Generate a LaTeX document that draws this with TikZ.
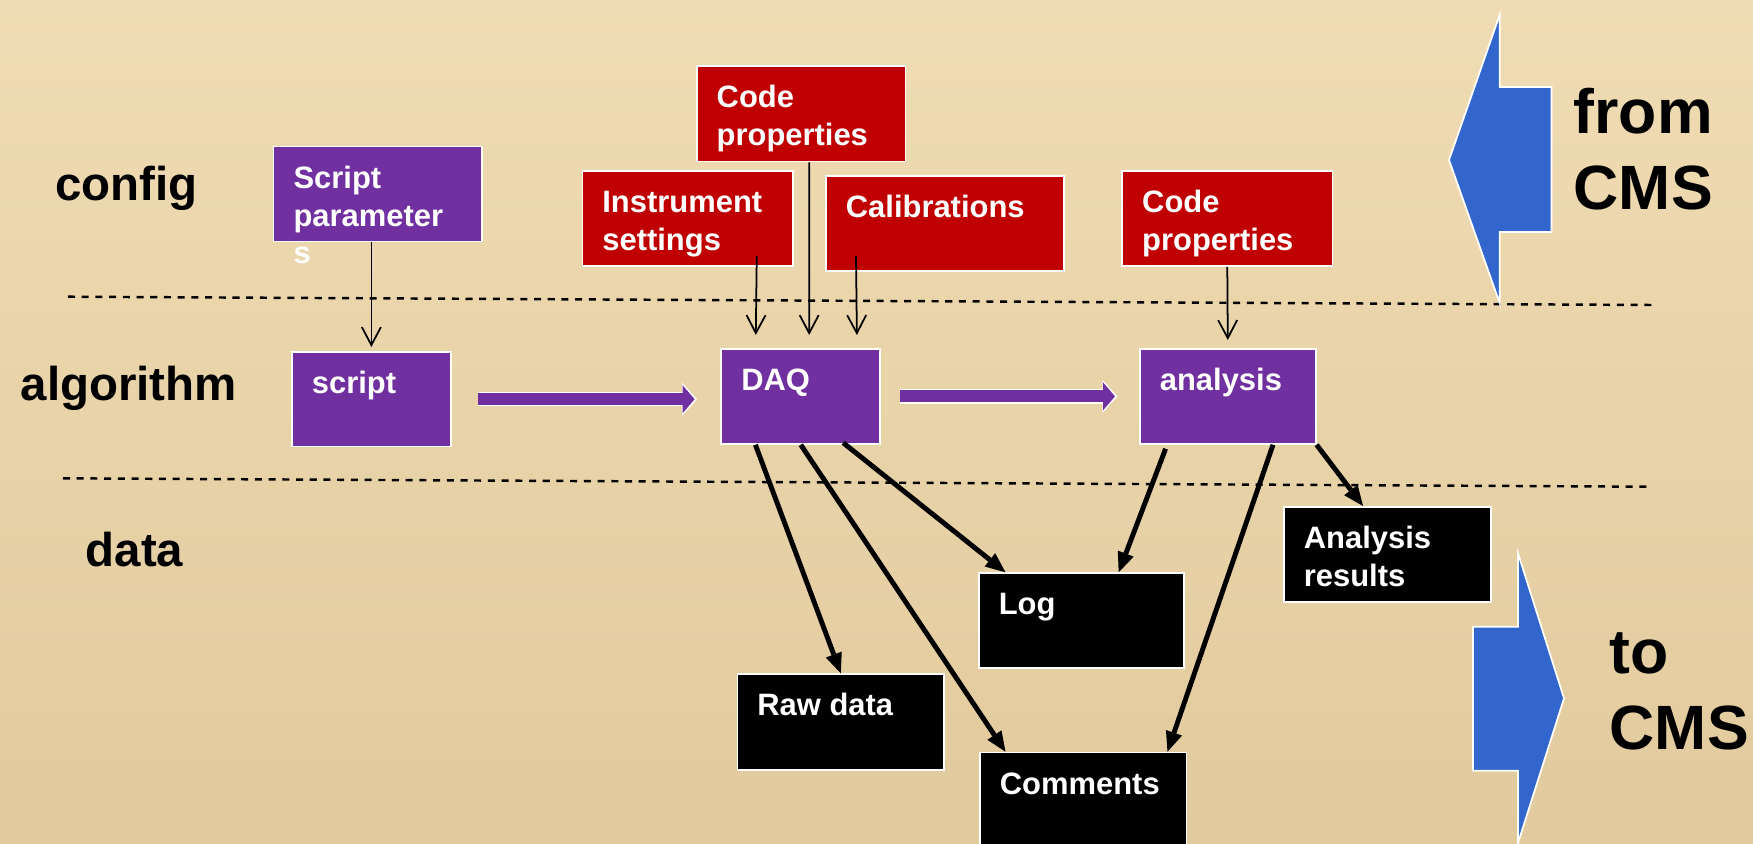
\documentclass[tikz,border=0pt]{standalone}
\usepackage{fontspec}
\setmainfont{Liberation Sans}
\usepackage{xcolor}
\usetikzlibrary{calc, arrows.meta, positioning}

\definecolor{boxpurple}{HTML}{7030A0}
\definecolor{boxred}{HTML}{C00000}
\definecolor{cmsblue}{HTML}{3366CC}
\definecolor{paperhi}{HTML}{F0DCB4}
\definecolor{paperlo}{HTML}{E1CA9D}

% text sits in the top left corner of every box
\newcommand{\blocktext}[3]{\parbox[t][#2][t]{#1}{\raggedright\leftskip=2mm\rule{0pt}{4.15mm}#3}}

\begin{document}
\begin{tikzpicture}[
    blk/.style={draw=white, line width=0.5pt, inner sep=0pt, anchor=north west,
      text=white, font=\fontsize{8.8pt}{10.8pt}\selectfont\bfseries},
    layer/.style={anchor=base west, inner sep=0pt, font=\fontsize{13.5pt}{16pt}\selectfont\bfseries},
    cmslbl/.style={anchor=base west, inner sep=0pt, font=\fontsize{17.8pt}{21.6pt}\selectfont\bfseries},
    divider/.style={line width=0.7pt, dash pattern=on 2pt off 1.9pt},
    thinarr/.style={line width=0.5pt, -{Straight Barb[length=1.8mm, width=1.9mm]}},
    dataarr/.style={line width=1.4pt, -{Triangle[length=2mm, width=1.7mm, line width=0pt]}},
    flowarr/.style={draw=boxpurple, line width=1.2mm,
      -{Triangle[length=1.2mm, width=2.8mm, line width=0pt]},
      preaction={draw=white, line width=1.45mm,
        -{Triangle[length=1.5mm, width=3.3mm, line width=0pt]}, shorten >=-0.25mm}},
    bigarr/.style={fill=cmsblue, draw=white, line width=0.5pt},
  ]
  \fill[top color=paperhi, bottom color=paperlo] (0,0) rectangle (17.53,-8.43);
  \useasboundingbox (0,0) rectangle (17.53,-8.43);

  % layer names and separators
  \foreach \x/\y/\t/\n in {0.545/-2.00/config/lcfg, 0.20/-4.00/algorithm/lalg, 0.85/-5.667/data/ldat}
    \node[layer] (\n) at (\x,\y) {\t};
  \draw[divider] (0.68,-2.967) -- (16.53,-3.05);
  \draw[divider] (0.63,-4.783) -- (16.48,-4.867);

  % config
  \node[blk, fill=boxpurple] (sp) at (2.727,-1.457) {\blocktext{2.084cm}{0.95cm}{Script\\parameter\\s}};
  \node[blk, fill=boxred] (cp1) at (6.958,-0.65) {\blocktext{2.089cm}{0.957cm}{Code\\properties}};
  \node[blk, fill=boxred] (inst) at (5.815,-1.70) {\blocktext{2.105cm}{0.95cm}{Instrument\\settings}};
  \node[blk, fill=boxred] (cal) at (8.25,-1.75) {\blocktext{2.38cm}{0.95cm}{Calibrations}};
  \node[blk, fill=boxred] (cp2) at (11.213,-1.70) {\blocktext{2.102cm}{0.95cm}{Code\\properties}};

  % algorithm
  \node[blk, fill=boxpurple] (script) at (2.91,-3.51) {\blocktext{1.59cm}{0.947cm}{script}};
  \node[blk, fill=boxpurple] (daq) at (7.204,-3.48) {\blocktext{1.59cm}{0.95cm}{DAQ}};
  \node[blk, fill=boxpurple] (ana) at (11.39,-3.48) {\blocktext{1.758cm}{0.95cm}{analysis}};

  % data
  \node[blk, fill=black] (res) at (12.83,-5.06) {\blocktext{2.074cm}{0.95cm}{Analysis\\results}};
  \node[blk, fill=black] (log) at (9.779,-5.723) {\blocktext{2.05cm}{0.95cm}{Log}};
  \node[blk, fill=black] (raw) at (7.365,-6.733) {\blocktext{2.068cm}{0.96cm}{Raw data}};
  \node[blk, fill=black] (com) at (9.79,-7.517) {\blocktext{2.067cm}{0.96cm}{Comments}};

  % config -> algorithm
  \draw[thinarr] (script.north |- sp.south) -- ([yshift=0.4mm]script.north);
  \draw[thinarr] ([shift={(-0.37,0.11)}]inst.south east) -- ([shift={(-0.45,0.13)}]daq.north);
  \draw[thinarr] ([xshift=0.8mm]cp1.south) -- ([shift={(0.084,0.13)}]daq.north);
  \draw[thinarr] ([shift={(0.31,0.16)}]cal.south west) -- ([shift={(0.561,0.13)}]daq.north);
  \draw[thinarr] (cp2.south) -- ([yshift=0.8mm]ana.north);

  % flow along the algorithm row
  \draw[flowarr] ($(script.east)+(0.265,0)$) -- ($(script.east -| daq.west)+(-0.258,0)$);
  \draw[flowarr] ($(daq.east)+(0.184,0)$) -- ($(daq.east -| ana.west)+(-0.24,0)$);

  % algorithm -> data
  \draw[dataarr] ([xshift=3.5mm]daq.south west) -- (raw.north);
  \draw[dataarr] (daq.south) -- ([xshift=2.65mm]com.north west);
  \draw[dataarr] ([shift={(-0.38,0.02)}]daq.south east) -- ([xshift=2.76mm]log.north west);
  \draw[dataarr] ([shift={(0.266,-0.04)}]ana.south west) -- ([xshift=-6.6mm]log.north east);
  \draw[dataarr] ([xshift=13.4mm]ana.south west) -- ([xshift=-2mm]com.north east);
  \draw[dataarr] (ana.south east) -- ([xshift=8mm]res.north west);

  % CMS in and out
  \path[bigarr] (14.996,-0.15) -- (14.49,-1.60) -- (14.996,-3.03) -- (14.996,-2.32)
    -- (15.515,-2.32) -- (15.515,-0.87) -- (14.996,-0.87) -- cycle;
  \node[cmslbl] (fromcms) at (15.73,-1.333) {\parbox[t]{1.8cm}{from\\CMS}};
  \path[bigarr] (15.18,-5.533) -- (15.64,-6.983) -- (15.18,-8.43) -- (15.18,-7.707)
    -- (14.73,-7.707) -- (14.73,-6.267) -- (15.18,-6.267) -- cycle;
  \node[cmslbl] (tocms) at (16.09,-6.733) {\parbox[t]{1.6cm}{to\\CMS}};
\end{tikzpicture}
\end{document}
